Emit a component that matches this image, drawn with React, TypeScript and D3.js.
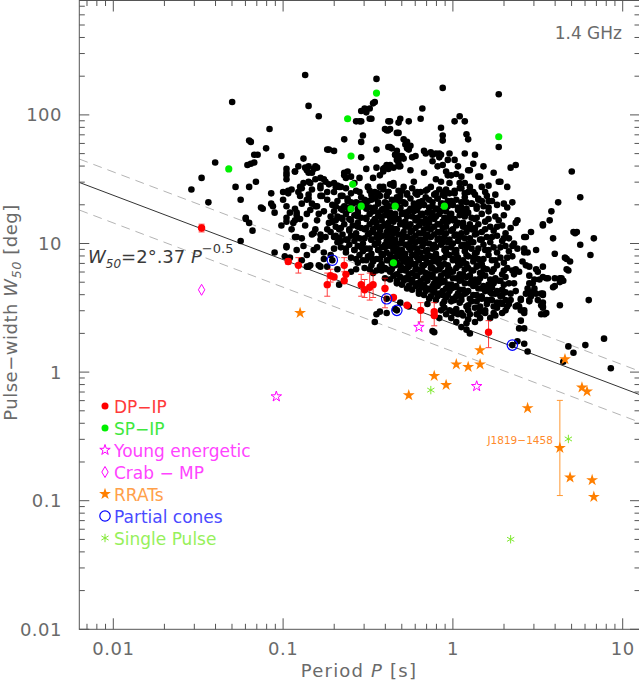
import React from "react";
import * as d3 from "d3";

// all marks stored as [log10 P (s), log10 W50 (deg)]

// ordinary pulsars (black dots)
const normalPulsars: [number, number][] = [
  // dense core
  [-0.63,1.43],[-0.57,1.41],[-0.50,1.44],[-0.46,1.40],[-0.41,1.42],[-0.35,1.45],[-0.30,1.41],[-0.24,1.43],[-0.19,1.40],[-0.13,1.44],[-0.08,1.42],[-0.02,1.39],[0.04,1.43],[0.10,1.41],[0.17,1.44],
  [-0.66,1.37],[-0.60,1.39],[-0.54,1.36],[-0.48,1.38],[-0.43,1.37],[-0.38,1.40],[-0.33,1.36],[-0.27,1.38],[-0.22,1.39],[-0.16,1.36],[-0.11,1.38],[-0.05,1.37],[0.01,1.39],[0.07,1.36],[0.13,1.38],[0.20,1.37],
  [-0.68,1.33],[-0.62,1.35],[-0.57,1.32],[-0.52,1.34],[-0.46,1.35],[-0.40,1.32],[-0.36,1.34],[-0.31,1.33],[-0.25,1.35],[-0.20,1.32],[-0.14,1.34],[-0.09,1.35],[-0.03,1.33],[0.02,1.34],[0.08,1.32],[0.15,1.35],[0.23,1.33],
  [-0.64,1.29],[-0.59,1.31],[-0.53,1.30],[-0.49,1.28],[-0.44,1.31],[-0.38,1.29],[-0.33,1.30],[-0.28,1.31],[-0.23,1.28],[-0.17,1.30],[-0.12,1.29],[-0.06,1.31],[0.00,1.30],[0.05,1.28],[0.11,1.31],[0.18,1.29],[0.26,1.30],
  [-0.70,1.25],[-0.66,1.27],[-0.61,1.26],[-0.56,1.24],[-0.51,1.27],[-0.47,1.25],[-0.42,1.26],[-0.37,1.24],[-0.31,1.27],[-0.26,1.25],[-0.21,1.26],[-0.15,1.24],[-0.10,1.27],[-0.04,1.25],[0.03,1.26],[0.09,1.24],[0.14,1.27],[0.21,1.25],
  [-0.68,1.21],[-0.63,1.23],[-0.58,1.22],[-0.54,1.20],[-0.49,1.23],[-0.44,1.21],[-0.40,1.22],[-0.35,1.20],[-0.30,1.23],[-0.24,1.21],[-0.19,1.22],[-0.13,1.20],[-0.08,1.23],[-0.02,1.21],[0.04,1.22],[0.11,1.20],[0.17,1.23],[0.25,1.21],[0.30,1.22],
  [-0.71,1.17],[-0.65,1.19],[-0.60,1.18],[-0.56,1.16],[-0.51,1.19],[-0.47,1.17],[-0.42,1.18],[-0.38,1.16],[-0.33,1.19],[-0.28,1.17],[-0.22,1.18],[-0.17,1.16],[-0.11,1.19],[-0.06,1.17],[0.00,1.18],[0.06,1.16],[0.13,1.19],[0.19,1.17],[0.27,1.18],
  [-0.69,1.13],[-0.64,1.15],[-0.59,1.14],[-0.54,1.12],[-0.49,1.15],[-0.45,1.13],[-0.40,1.14],[-0.36,1.12],[-0.31,1.15],[-0.26,1.13],[-0.20,1.14],[-0.15,1.12],[-0.09,1.15],[-0.04,1.13],[0.02,1.14],[0.08,1.12],[0.15,1.15],[0.22,1.13],[0.29,1.14],[0.34,1.12],
  [-0.72,1.09],[-0.67,1.11],[-0.61,1.10],[-0.57,1.08],[-0.52,1.11],[-0.47,1.09],[-0.43,1.10],[-0.38,1.08],[-0.34,1.11],[-0.29,1.09],[-0.24,1.10],[-0.18,1.08],[-0.13,1.11],[-0.07,1.09],[-0.01,1.10],[0.05,1.08],[0.11,1.11],[0.17,1.09],[0.24,1.10],[0.31,1.08],
  [-0.70,1.05],[-0.65,1.07],[-0.60,1.06],[-0.55,1.04],[-0.50,1.07],[-0.45,1.05],[-0.41,1.06],[-0.36,1.04],[-0.32,1.07],[-0.27,1.05],[-0.22,1.06],[-0.16,1.04],[-0.11,1.07],[-0.05,1.05],[0.01,1.06],[0.07,1.04],[0.13,1.07],[0.20,1.05],[0.26,1.06],[0.33,1.04],
  [-0.68,1.01],[-0.63,1.03],[-0.58,1.02],[-0.53,1.00],[-0.48,1.03],[-0.44,1.01],[-0.39,1.02],[-0.34,1.00],[-0.30,1.03],[-0.25,1.01],[-0.20,1.02],[-0.14,1.00],[-0.09,1.03],[-0.03,1.01],[0.03,1.02],[0.09,1.00],[0.16,1.03],[0.22,1.01],[0.29,1.02],[0.36,1.00],
  [-0.66,0.97],[-0.61,0.99],[-0.56,0.98],[-0.51,0.96],[-0.46,0.99],[-0.42,0.97],[-0.37,0.98],[-0.33,0.96],[-0.28,0.99],[-0.23,0.97],[-0.18,0.98],[-0.12,0.96],[-0.07,0.99],[-0.01,0.97],[0.05,0.98],[0.11,0.96],[0.18,0.99],[0.24,0.97],[0.31,0.98],
  [-0.63,0.93],[-0.58,0.95],[-0.53,0.94],[-0.48,0.92],[-0.44,0.95],[-0.39,0.93],[-0.35,0.94],[-0.30,0.92],[-0.25,0.95],[-0.21,0.93],[-0.16,0.94],[-0.10,0.92],[-0.05,0.95],[0.01,0.93],[0.07,0.94],[0.13,0.92],[0.19,0.95],[0.26,0.93],[0.33,0.94],
  [-0.60,0.89],[-0.55,0.91],[-0.50,0.90],[-0.45,0.88],[-0.41,0.91],[-0.36,0.89],[-0.32,0.90],[-0.27,0.88],[-0.23,0.91],[-0.18,0.89],[-0.13,0.90],[-0.08,0.88],[-0.02,0.91],[0.03,0.89],[0.09,0.90],[0.15,0.88],[0.21,0.91],[0.28,0.89],[0.35,0.90],
  [-0.56,0.85],[-0.51,0.87],[-0.47,0.86],[-0.42,0.84],[-0.38,0.87],[-0.33,0.85],[-0.29,0.86],[-0.24,0.84],[-0.20,0.87],[-0.15,0.85],[-0.10,0.86],[-0.05,0.84],[0.00,0.87],[0.06,0.85],[0.12,0.86],[0.17,0.84],[0.23,0.87],[0.30,0.85],
  [-0.52,0.81],[-0.48,0.83],[-0.43,0.82],[-0.39,0.80],[-0.34,0.83],[-0.30,0.81],[-0.26,0.82],[-0.21,0.80],[-0.17,0.83],[-0.12,0.81],[-0.07,0.82],[-0.02,0.80],[0.04,0.83],[0.09,0.81],[0.14,0.82],[0.20,0.80],[0.26,0.83],[0.32,0.81],
  [-0.47,0.77],[-0.42,0.79],[-0.37,0.78],[-0.33,0.76],[-0.28,0.79],[-0.24,0.77],[-0.19,0.78],[-0.14,0.76],[-0.10,0.79],[-0.05,0.77],[0.00,0.78],[0.06,0.76],[0.11,0.79],[0.17,0.77],[0.23,0.78],[0.29,0.76],[0.35,0.79],
  [-0.40,0.73],[-0.35,0.75],[-0.31,0.74],[-0.26,0.72],[-0.22,0.75],[-0.17,0.73],[-0.12,0.74],[-0.08,0.72],[-0.03,0.75],[0.02,0.73],[0.08,0.74],[0.13,0.72],[0.19,0.75],[0.25,0.73],[0.31,0.74],
  [-0.33,0.69],[-0.29,0.71],[-0.24,0.70],[-0.20,0.68],[-0.15,0.71],[-0.11,0.69],[-0.06,0.70],[-0.01,0.68],[0.04,0.71],[0.10,0.69],[0.15,0.70],[0.21,0.68],[0.27,0.71],[0.33,0.69],
  [-0.27,0.65],[-0.22,0.67],[-0.18,0.66],[-0.13,0.64],[-0.09,0.67],[-0.04,0.65],[0.01,0.66],[0.06,0.64],[0.12,0.67],[0.17,0.65],[0.23,0.66],[0.29,0.64],
  [-0.20,0.61],[-0.16,0.63],[-0.11,0.62],[-0.06,0.60],[-0.02,0.63],[0.03,0.61],[0.08,0.62],[0.14,0.60],[0.19,0.63],[0.25,0.61],[0.31,0.62],
  [-0.14,0.57],[-0.09,0.59],[-0.04,0.58],[0.01,0.56],[0.05,0.59],[0.10,0.57],[0.16,0.58],[0.22,0.56],[0.28,0.59],
  [-0.06,0.53],[-0.01,0.55],[0.04,0.54],[0.09,0.52],[0.14,0.55],[0.20,0.53],[0.26,0.54],
  [0.02,0.49],[0.08,0.51],[0.13,0.50],[0.19,0.48],[0.24,0.51],
  [-0.44,1.24],[-0.39,1.25],[-0.34,1.23],[-0.28,1.24],[-0.23,1.25],[-0.18,1.23],[-0.12,1.24],[-0.07,1.25],[-0.01,1.23],[0.06,1.24],
  [-0.45,1.16],[-0.40,1.15],[-0.35,1.17],[-0.30,1.16],[-0.25,1.15],[-0.19,1.17],[-0.14,1.16],[-0.08,1.15],[-0.03,1.17],[0.03,1.16],[0.10,1.15],
  [-0.49,1.08],[-0.44,1.07],[-0.39,1.09],[-0.35,1.08],[-0.30,1.07],[-0.25,1.09],[-0.20,1.08],[-0.15,1.07],[-0.09,1.09],[-0.04,1.08],[0.02,1.07],[0.08,1.09],[0.14,1.08],
  [-0.45,1.00],[-0.40,0.99],[-0.36,1.01],[-0.31,1.00],[-0.27,0.99],[-0.22,1.01],[-0.17,1.00],[-0.11,0.99],[-0.06,1.01],[0.00,1.00],[0.06,0.99],[0.12,1.01],
  [-0.42,0.92],[-0.37,0.91],[-0.33,0.93],[-0.28,0.92],[-0.24,0.91],[-0.19,0.93],[-0.15,0.92],[-0.10,0.91],[-0.04,0.93],[0.02,0.92],[0.08,0.91],[0.14,0.93],
  [-0.36,0.84],[-0.31,0.83],[-0.27,0.85],[-0.22,0.84],[-0.18,0.83],[-0.13,0.85],[-0.08,0.84],[-0.03,0.83],[0.03,0.85],[0.08,0.84],[0.15,0.83],
  [-0.26,0.76],[-0.21,0.75],[-0.16,0.77],[-0.12,0.76],[-0.07,0.75],[-0.02,0.77],[0.04,0.76],[0.10,0.75],[0.16,0.77],
  [-0.55,1.40],[-0.49,1.41],[-0.44,1.39],[-0.38,1.40],[-0.32,1.41],[-0.27,1.39],[-0.21,1.40],[-0.16,1.41],[-0.10,1.39],[-0.05,1.40],[0.01,1.41],[0.07,1.39],[0.12,1.40],
  [-0.60,1.32],[-0.55,1.31],[-0.50,1.33],[-0.44,1.32],[-0.39,1.31],[-0.34,1.33],[-0.29,1.32],[-0.23,1.31],[-0.18,1.33],[-0.12,1.32],[-0.07,1.31],[-0.01,1.33],[0.05,1.32],[0.11,1.31],[0.17,1.33],
  [-0.62,1.28],[-0.56,1.27],[-0.51,1.29],[-0.46,1.28],[-0.41,1.27],[-0.36,1.29],[-0.31,1.28],[-0.25,1.27],[-0.20,1.29],[-0.14,1.28],[-0.09,1.27],[-0.03,1.29],[0.03,1.28],[0.08,1.27],[0.14,1.29],[0.21,1.28],
  [-0.66,1.20],[-0.61,1.19],[-0.56,1.21],[-0.51,1.20],[-0.46,1.19],[-0.42,1.21],[-0.37,1.20],[-0.32,1.19],[-0.27,1.21],[-0.21,1.20],[-0.16,1.19],[-0.10,1.21],[-0.05,1.20],[0.01,1.19],[0.07,1.21],[0.14,1.20],[0.21,1.19],
  [-0.66,1.12],[-0.61,1.11],[-0.56,1.13],[-0.51,1.12],[-0.47,1.11],[-0.42,1.13],[-0.38,1.12],[-0.33,1.11],[-0.28,1.13],[-0.22,1.12],[-0.17,1.11],[-0.11,1.13],[-0.06,1.12],[0.00,1.11],[0.06,1.13],[0.13,1.12],[0.19,1.11],[0.26,1.13],
  [-0.67,1.04],[-0.62,1.03],[-0.57,1.05],[-0.52,1.04],[-0.48,1.03],[-0.43,1.05],[-0.38,1.04],[-0.34,1.03],[-0.29,1.05],[-0.24,1.04],[-0.19,1.03],[-0.13,1.05],[-0.08,1.04],[-0.02,1.03],[0.04,1.05],[0.10,1.04],[0.17,1.03],[0.23,1.05],[0.30,1.04],
  [-0.63,0.96],[-0.58,0.95],[-0.54,0.97],[-0.49,0.96],[-0.44,0.95],[-0.40,0.97],[-0.35,0.96],[-0.30,0.95],[-0.26,0.97],[-0.21,0.96],[-0.15,0.95],[-0.10,0.97],[-0.04,0.96],[0.02,0.95],[0.08,0.97],[0.15,0.96],[0.21,0.95],[0.28,0.97],
  [-0.57,0.88],[-0.53,0.87],[-0.48,0.89],[-0.43,0.88],[-0.39,0.87],[-0.34,0.89],[-0.30,0.88],[-0.25,0.87],[-0.21,0.89],[-0.16,0.88],[-0.11,0.87],[-0.05,0.89],[0.00,0.88],[0.06,0.87],[0.12,0.89],[0.18,0.88],[0.25,0.87],[0.32,0.89],
  [-0.49,0.80],[-0.45,0.79],[-0.40,0.81],[-0.36,0.80],[-0.31,0.79],[-0.27,0.81],[-0.22,0.80],[-0.18,0.79],[-0.13,0.81],[-0.08,0.80],[-0.03,0.79],[0.02,0.81],[0.07,0.80],[0.12,0.79],[0.18,0.81],[0.24,0.80],[0.30,0.79],
  [-0.37,0.72],[-0.33,0.71],[-0.28,0.73],[-0.24,0.72],[-0.19,0.71],[-0.15,0.73],[-0.10,0.72],[-0.05,0.71],[0.00,0.73],[0.05,0.72],[0.11,0.71],[0.16,0.73],[0.22,0.72],[0.28,0.71],
  [-0.30,0.68],[-0.26,0.67],[-0.21,0.69],[-0.17,0.68],[-0.12,0.67],[-0.08,0.69],[-0.03,0.68],[0.02,0.67],[0.07,0.69],[0.13,0.68],[0.18,0.67],[0.24,0.69],[0.30,0.68],
  [-0.24,0.64],[-0.20,0.63],[-0.15,0.65],[-0.11,0.64],[-0.06,0.63],[-0.01,0.65],[0.04,0.64],[0.09,0.63],[0.15,0.65],[0.20,0.64],[0.26,0.63],
  [-0.17,0.60],[-0.13,0.59],[-0.08,0.61],[-0.03,0.60],[0.02,0.59],[0.07,0.61],[0.12,0.60],[0.17,0.59],[0.23,0.61],[0.29,0.60],
  [-0.10,0.56],[-0.05,0.55],[0.00,0.57],[0.05,0.56],[0.11,0.55],[0.17,0.57],[0.23,0.56],
  [-0.05,0.50],[0.00,0.47],[0.05,0.46],[-0.15,0.53],[0.10,0.45],[0.16,0.47],
  // upper-left periphery
  [-0.87,2.31],[-0.45,2.28],[-1.30,2.10],[-0.85,2.07],[-0.79,1.99],[-0.54,2.03],[-0.51,2.02],[-0.49,2.05],[-0.46,2.10],[-0.57,1.95],[-0.54,1.95],[-0.48,1.97],
  [-1.08,1.89],[-1.20,1.80],[-1.19,1.79],[-1.10,1.74],[-1.15,1.69],[-1.17,1.69],[-1.21,1.61],[-1.19,1.62],[-1.17,1.63],[-1.40,1.63],[-1.48,1.51],[-1.54,1.42],
  [-1.44,1.32],[-1.28,1.44],[-1.20,1.44],[-1.16,1.48],[-1.25,1.34],[-1.12,1.27],[-1.07,1.39],[-1.07,1.31],[-1.06,1.29],[-1.05,1.24],[-1.01,1.68],[-1.00,1.40],
  [-0.97,1.41],[-0.98,1.58],[-0.98,1.53],[-0.93,1.56],[-0.88,1.66],[-0.87,1.59],[-0.85,1.60],[-0.85,1.55],[-0.82,1.58],[-0.81,1.60],[-0.90,1.44],[-0.89,1.43],
  [-0.84,1.47],[-0.81,1.50],[-0.78,1.51],[-0.75,1.48],[-0.73,1.46],[-0.73,1.73],[-0.70,1.72],[-0.64,1.81],[-0.53,1.84],[-0.54,1.79],[-0.54,1.67],[-0.40,1.89],
  [-0.38,1.88],[-0.33,1.86],[-0.37,1.95],[-0.32,1.94],[-0.36,1.74],[-0.34,1.69],[-0.33,1.65],[-0.32,1.60],[-0.35,1.59],[-0.38,1.58],[-0.40,1.59],[-0.45,1.59],
  [-0.51,1.58],[-0.55,1.51],[-0.64,1.53],[-0.63,1.51],[-0.60,1.52],[-0.43,1.53],[-0.43,1.44],[-0.37,1.46],[-0.58,1.47],[-0.66,1.44],[-0.69,1.44],[-0.70,1.40],
  [-0.74,1.40],[-0.78,1.43],[-0.83,1.42],[-0.85,1.38],[-0.90,1.37],[-0.89,1.31],[-0.85,1.35],[-0.92,1.24],[-0.93,1.27],[-0.98,1.29],[-1.00,1.34],[-0.98,1.20],
  [-0.81,1.29],[-0.78,1.37],[-0.74,1.34],[-0.69,1.29],[-0.65,1.37],[-0.79,1.23],[-0.86,1.23],[-1.22,1.19],
  [-1.25,1.02],[-1.22,1.20],[-1.20,1.16],[-1.18,1.10],[-1.13,1.28],[-1.05,0.93],[-0.99,0.90],[-0.98,0.98],[-0.96,0.89],[-0.98,1.17],[-0.93,1.18],[-0.92,1.22],
  [-0.89,0.87],[-0.86,0.82],[-0.84,0.83],[-0.83,1.07],[-0.81,1.11],[-0.78,1.07],[-0.78,0.82],[-0.93,1.05],[-1.01,1.14],[-0.67,0.68],[-0.60,0.78],[-0.57,0.80],
  [-0.46,0.39],[-0.45,0.45],[-0.43,0.47],[-0.39,0.46],
  [-0.86,1.57],[-0.83,1.55],[-0.80,1.59],[-0.88,1.47],[-0.85,1.48],[-0.76,1.50],[-0.70,1.47],[-0.67,1.44],[-0.64,1.55],[-0.62,1.56],[-0.86,1.34],[-0.83,1.31],
  [-0.80,1.29],[-0.77,1.37],[-0.72,1.21],[-0.69,1.18],[-0.65,1.26],[-0.62,1.33],[-0.82,1.08],[-0.78,1.03],[-0.74,1.11],[-0.69,1.06],[-0.66,1.02],[-0.82,0.95],
  [-0.86,0.91],[-0.76,0.93],[-0.70,0.96],[-0.74,0.82],[-0.68,0.80],[-0.79,0.83],
  [-0.96,1.24],[-0.94,1.16],[-0.90,1.19],[-0.87,1.14],[-0.84,1.26],[-0.80,1.18],[-0.76,1.25],[-0.73,1.16],[-0.75,1.05],[-0.71,1.30],[-0.88,0.98],[-0.80,0.97],
  [-0.76,0.88],[-0.72,0.91],[-0.92,0.95],[-0.98,0.97],[-0.92,1.05],[-0.95,1.11],[-0.89,1.04],[-0.85,0.82],[-0.97,1.39],[-0.95,1.42],[-0.91,1.40],[-0.93,1.56],
  [-0.98,1.55],[-0.98,1.50],[-0.91,1.60],[-0.71,0.87],[-0.39,0.57],[-0.33,0.48],
  // upper-middle periphery
  [-0.45,1.73],[-0.38,1.75],[-0.33,1.72],[-0.27,1.79],[-0.27,1.74],[-0.22,1.68],[-0.16,1.70],[-0.12,1.64],[-0.09,1.60],[-0.37,1.61],[-0.31,1.60],[-0.25,1.57],
  [-0.41,1.56],[-0.47,1.51],[-0.50,1.44],[-0.41,1.44],[-0.35,1.47],[-0.29,1.44],[-0.23,1.48],[-0.17,1.55],[-0.10,1.50],[-0.15,1.42],[-0.21,1.38],[-0.31,1.37],
  [-0.39,1.37],[-0.45,1.39],[-0.48,1.34],[-0.09,1.35],
  [-0.06,2.21],[0.27,2.16],[0.27,1.75],[0.28,1.48],[-0.18,2.05],[-0.52,2.05],[-0.47,2.09],[-0.49,1.97],[-0.55,1.95],[-0.38,1.95],[-0.31,1.97],[-0.26,1.95],
  [-0.19,1.97],[-0.07,1.90],[0.01,1.95],[0.04,1.99],[0.07,1.95],[-0.06,1.84],[0.08,1.85],[-0.39,1.88],[-0.37,1.89],[-0.37,1.75],[-0.25,1.76],[-0.31,1.68],
  [-0.29,1.66],[-0.74,1.73],[-0.39,1.61],[-0.41,1.58],[-0.32,1.62],[-0.13,1.71],[-0.12,1.69],[-0.07,1.69],[-0.08,1.67],[-0.03,1.65],[0.07,1.70],[0.13,1.69],
  [0.02,1.54],[0.05,1.52],[0.16,1.52],[0.34,1.59],[0.37,1.61],[-0.06,1.80],[0.09,1.81],[-0.32,1.86],[-0.29,1.81],[-0.28,1.77],[-0.26,1.73],[-0.17,1.72],
  [-0.10,1.70],[-0.02,1.70],[0.01,1.65],[-0.34,1.69],[-0.30,1.68],[-0.24,1.67],[-0.32,1.65],[0.10,1.57],[-0.06,1.61],[-0.03,1.53],[-0.07,1.48],[-0.01,1.53],
  [-0.08,1.70],[-0.04,1.56],[0.09,1.57],[0.15,1.52],[0.04,1.47],[0.07,1.47],[0.10,1.44],[0.09,1.40],[0.27,1.48],[0.32,1.44],[-0.04,1.42],[-0.06,1.38],
  [0.15,1.34],[0.21,1.33],[0.25,1.38],[0.30,1.31],[0.32,1.28],[0.35,1.32],[0.18,1.60],[0.21,1.45],[0.24,1.55],[0.19,1.40],[0.12,1.62],[0.03,1.60],
  [-0.02,1.47],[0.05,1.43],[-0.78,1.45],[-0.68,1.45],
  // right periphery
  [0.70,1.56],[0.75,1.36],[0.62,1.32],[0.58,1.25],[0.57,1.18],[0.53,1.14],[0.46,1.09],[0.73,1.09],[0.75,0.99],[0.83,1.04],[0.60,0.92],[0.67,0.88],
  [0.68,0.79],[0.80,0.56],[0.89,0.26],[0.63,0.73],[0.59,0.66],[0.63,0.52],[0.52,0.61],[0.52,0.52],[0.52,0.45],[0.56,0.73],[0.42,1.05],[0.42,0.96],
  [0.39,0.78],[0.45,0.75],[0.45,0.69],[0.46,0.62],[0.45,0.55],[0.40,0.56],[0.40,0.48],[0.38,0.52],[0.33,0.53],[0.34,0.61],[0.29,0.53],[0.29,0.46],
  [0.22,0.62],[0.20,0.56],[0.16,0.51],[0.14,0.45],[0.08,0.38],[0.08,0.33],[0.02,0.39],[-0.11,0.31],
  [0.38,1.18],[0.43,1.05],[0.49,0.95],[0.53,1.15],[0.59,1.04],[0.71,1.09],[0.66,0.89],[0.69,0.86],[0.67,0.80],[0.35,0.98],[0.38,0.96],[0.42,0.93],
  [0.45,0.82],[0.49,0.80],[0.53,0.82],[0.53,0.74],[0.47,0.69],[0.51,0.72],[0.49,0.61],[0.53,0.60],[0.53,0.54],[0.53,0.50],[0.55,0.46],[0.60,0.67],
  [0.64,0.73],[0.65,0.71],[0.60,0.73],[0.43,0.61],[0.45,0.56],[0.39,0.51],[0.42,0.48],[0.37,0.63],[0.36,0.69],[0.34,0.56],[0.37,0.51],[0.31,0.48],
  [0.25,0.44],[0.42,0.34],[0.19,0.46],[0.16,0.42],[0.13,0.39],[0.06,0.44],[0.09,0.48],
  [0.72,1.08],[0.81,0.91],[0.37,1.16],[0.44,0.93],[0.41,0.86],[0.43,0.83],[0.37,0.80],[0.36,0.76],[0.55,0.73],[0.50,0.78],[0.48,0.72],[0.53,0.61],
  [0.63,0.70],[0.53,0.51],[0.54,0.45],[0.50,0.56],[0.46,0.59],[0.48,0.65],[0.44,0.65],[0.40,0.57],[0.42,0.46],[0.40,0.40],[0.39,0.34],[0.42,0.22],
  [0.44,0.16],[0.38,0.24],[0.35,0.21],[0.68,0.20],[0.71,0.15],[0.78,0.21],[0.93,0.03],[0.65,0.08],[0.31,0.56],[0.28,0.54],[0.32,0.51],[0.26,0.50],
  [0.24,0.46],[0.22,0.42],[0.10,0.30],[0.09,0.41],[0.03,0.45],[0.01,0.46],[-0.02,0.48],[0.05,0.35],[-0.12,0.32],[-0.04,0.45],[-0.01,0.42],[-0.08,0.42],
  [-0.07,0.48],[-0.34,0.49],[-0.31,0.54],[-0.26,0.51],
];

// single-peak interpulses (green)
const spIp: [number, number][] = [
  [-1.32,1.58],[-0.45,2.17],[-0.62,1.97],[-0.60,1.68],[-0.59,1.46],[-0.60,1.27],[-0.54,1.29],[-0.34,1.29],[-0.05,1.29],[-0.35,0.85],[0.27,1.83],
];

// double-peak interpulses (red): logP, logW, log lower, log upper
const dpIp: [number, number, number, number][] = [
  [-1.48,1.12,1.09,1.15],[-0.97,0.86,0.84,0.88],[-0.91,0.83,0.77,0.89],[-0.74,0.68,0.59,0.77],[-0.72,0.75,0.70,0.80],
  [-0.70,0.74,0.74,0.74],[-0.64,0.83,0.78,0.89],[-0.63,0.76,0.76,0.76],[-0.64,0.71,0.71,0.71],[-0.54,0.68,0.59,0.76],
  [-0.52,0.64,0.58,0.72],[-0.49,0.66,0.56,0.77],[-0.47,0.68,0.58,0.76],[-0.40,0.65,0.50,0.73],[-0.35,0.58,0.58,0.58],
  [-0.27,0.52,0.52,0.52],[-0.19,0.48,0.39,0.54],[-0.11,0.47,0.36,0.54],[-0.11,0.44,0.44,0.44],[0.21,0.31,0.19,0.40],
];

const partialCones: [number, number][] = [[-0.71,0.87],[-0.39,0.57],[-0.33,0.48],[0.35,0.21]];
const youngEnergetic: [number, number][] = [[-1.04,-0.19],[-0.20,0.35],[0.14,-0.11]];
const crabMp: [number, number][] = [[-1.48,0.64]];
const rrats: [number, number][] = [
  [-0.90,0.46],[0.16,0.17],[0.02,0.06],[0.09,0.04],[0.16,0.06],[-0.11,-0.03],[-0.04,-0.10],[-0.26,-0.18],
  [0.44,-0.28],[0.66,0.10],[0.76,-0.12],[0.79,-0.15],[0.63,-0.59],[0.69,-0.82],[0.82,-0.84],[0.83,-0.97],
];
const j1819: [number, number, number, number] = [0.63, -0.59, -0.96, -0.22];
const singlePulse: [number, number][] = [[-0.13,-0.14],[0.68,-0.52],[0.34,-1.30]];

// W50 = 2.37 P^-0.5 and its band
const fitCoef = 2.37;
const fitIndex = -0.5;
const bandUp = 1.52;
const bandDown = 0.61;

const xTicks = [0.01, 0.1, 1, 10];
const xTickLabels = ["0.01", "0.1", "1", "10"];
const yTicks = [0.01, 0.1, 1, 10, 100];
const yTickLabels = ["0.01", "0.1", "1", "10", "100"];

const legendLabels = ["DP\u2212IP", "SP\u2212IP", "Young energetic", "Crab \u2212 MP", "RRATs", "Partial cones", "Single Pulse"];
const legendColors = ["#ff3a3a", "#3ee83e", "#ff44ff", "#ff44ff", "#ffa04a", "#4a4aff", "#96f05a"];

const RED = "#ff0000";
const GREEN = "#00f000";
const MAGENTA = "#ff00ff";
const ORANGE = "#ff7f00";
const BLUE = "#0000ff";
const LIME = "#7fe830";
const FONT = "DejaVu Sans";

const left = 79.3, right = 640, top = 0.5, bottom = 629.3;
const x = d3.scaleLog().domain([0.01, 10]).range([113.3, 622.7]);
const y = d3.scaleLog().domain([0.01, 100]).range([629.3, 114.9]);
const px = (l: number) => x(10 ** l);
const py = (l: number) => y(10 ** l);

function Asterisk({ cx, cy, r, color }: { cx: number; cy: number; r: number; color: string }) {
  const a = [90, 30, -30].map((d) => (d * Math.PI) / 180);
  return (
    <g stroke={color} strokeWidth={1}>
      {a.map((t, i) => (
        <line key={i} x1={cx - r * Math.cos(t)} y1={cy - r * Math.sin(t)} x2={cx + r * Math.cos(t)} y2={cy + r * Math.sin(t)} />
      ))}
    </g>
  );
}

export default function App() {
  const starFilled = d3.symbol().type(d3.symbolStar).size(44)() || "";
  const starOpen = d3.symbol().type(d3.symbolStar).size(34)() || "";
  const diamond = "M0,-5.5L3.2,0L0,5.5L-3.2,0Z";

  const pMin = x.invert(left);
  const pMax = x.invert(right);
  const fitLine = (k: number) =>
    d3.line<number>().x((p) => x(p)).y((p) => y(k * fitCoef * Math.pow(p, fitIndex)))([pMin, pMax]) || "";

  const xMinor: number[] = [];
  for (let e = -3; e <= 1; e++) for (let m = 1; m < 10; m++) {
    const v = m * 10 ** e;
    if (x(v) >= left && x(v) <= right) xMinor.push(v);
  }
  const yMinor: number[] = [];
  for (let e = -2; e <= 2; e++) for (let m = 1; m < 10; m++) {
    const v = m * 10 ** e;
    if (y(v) >= top - 1 && y(v) <= bottom) yMinor.push(v);
  }

  const axisColor = "#555";
  const labelColor = "#6a6a6a";
  const legendRowY = d3.range(legendLabels.length).map((i) => 406 + i * 22);
  const legendX = 105;

  return (
    <svg width={639} height={684} style={{ position: "absolute", left: 0, top: 0, background: "#fff" }} fontFamily={FONT}>
      <defs>
        <clipPath id="plotArea">
          <rect x={left} y={top} width={right - left} height={bottom - top} />
        </clipPath>
      </defs>
      <rect x={0} y={0} width={639} height={684} fill="#fff" />

      {/* power-law fit and band */}
      <g clipPath="url(#plotArea)" fill="none">
        <path d={fitLine(bandUp)} stroke="#b4b4b4" strokeWidth={1} strokeDasharray="9,6" />
        <path d={fitLine(bandDown)} stroke="#b4b4b4" strokeWidth={1} strokeDasharray="9,6" />
        <path d={fitLine(1)} stroke="#333" strokeWidth={1} />
      </g>

      {/* normal pulsars */}
      <g fill="#000">
        {normalPulsars.map(([lp, lw], i) => (
          <circle key={i} cx={px(lp)} cy={py(lw)} r={3.3} />
        ))}
      </g>

      {/* SP-IP */}
      <g fill={GREEN}>
        {spIp.map(([lp, lw], i) => (
          <circle key={i} cx={px(lp)} cy={py(lw)} r={3.6} />
        ))}
      </g>

      {/* DP-IP with error bars */}
      <g stroke={RED} strokeWidth={1} opacity={0.75}>
        {dpIp.filter((d) => d[3] > d[2]).map(([lp, , lo, hi], i) => (
          <g key={i}>
            <line x1={px(lp)} x2={px(lp)} y1={py(lo)} y2={py(hi)} />
            <line x1={px(lp) - 3} x2={px(lp) + 3} y1={py(lo)} y2={py(lo)} />
            <line x1={px(lp) - 3} x2={px(lp) + 3} y1={py(hi)} y2={py(hi)} />
          </g>
        ))}
      </g>
      <g fill={RED}>
        {dpIp.map(([lp, lw], i) => (
          <circle key={i} cx={px(lp)} cy={py(lw)} r={3.7} />
        ))}
      </g>

      {/* partial cones */}
      <g fill="none" stroke={BLUE} strokeWidth={1.2}>
        {partialCones.map(([lp, lw], i) => (
          <circle key={i} cx={px(lp)} cy={py(lw)} r={5.2} />
        ))}
      </g>

      {/* young energetic + Crab main pulse */}
      <g fill="#fff" stroke={MAGENTA} strokeWidth={1}>
        {youngEnergetic.map(([lp, lw], i) => (
          <path key={i} d={starOpen} transform={`translate(${px(lp)},${py(lw)})`} />
        ))}
        {crabMp.map(([lp, lw], i) => (
          <path key={"c" + i} d={diamond} transform={`translate(${px(lp)},${py(lw)})`} />
        ))}
      </g>

      {/* J1819-1458 error bar */}
      <g stroke={ORANGE} strokeWidth={1} opacity={0.8}>
        <line x1={px(j1819[0])} x2={px(j1819[0])} y1={py(j1819[2])} y2={py(j1819[3])} />
        <line x1={px(j1819[0]) - 3} x2={px(j1819[0]) + 3} y1={py(j1819[2])} y2={py(j1819[2])} />
        <line x1={px(j1819[0]) - 3} x2={px(j1819[0]) + 3} y1={py(j1819[3])} y2={py(j1819[3])} />
      </g>
      <text x={px(j1819[0]) - 7} y={py(j1819[1]) - 4} fontSize={10.5} fill="#ff8a2a" textAnchor="end">
        J1819{"\u2212"}1458
      </text>

      {/* RRATs */}
      <g fill={ORANGE}>
        {rrats.map(([lp, lw], i) => (
          <path key={i} d={starFilled} transform={`translate(${px(lp)},${py(lw)})`} />
        ))}
      </g>

      {/* single pulse */}
      {singlePulse.map(([lp, lw], i) => (
        <Asterisk key={i} cx={px(lp)} cy={py(lw)} r={4.2} color={LIME} />
      ))}

      {/* legend */}
      <g>
        <circle cx={legendX} cy={legendRowY[0]} r={3.5} fill={RED} />
        <circle cx={legendX} cy={legendRowY[1]} r={3.5} fill={GREEN} />
        <path d={starOpen} transform={`translate(${legendX},${legendRowY[2]})`} fill="#fff" stroke={MAGENTA} />
        <path d={diamond} transform={`translate(${legendX},${legendRowY[3]})`} fill="#fff" stroke={MAGENTA} />
        <path d={starFilled} transform={`translate(${legendX},${legendRowY[4]})`} fill={ORANGE} />
        <circle cx={legendX} cy={legendRowY[5]} r={5.2} fill="none" stroke={BLUE} strokeWidth={1.2} />
        <Asterisk cx={legendX} cy={legendRowY[6]} r={4.2} color={LIME} />
        {legendLabels.map((t, i) => (
          <text key={t} x={legendX + 9} y={legendRowY[i] + 6.5} fontSize={17} fill={legendColors[i]} style={{ whiteSpace: "pre" }}>
            {t}
          </text>
        ))}
      </g>

      {/* frame & ticks */}
      <g stroke={axisColor} strokeWidth={1} fill="none">
        <rect x={left} y={top} width={right - left} height={bottom - top} />
        {xMinor.map((v) => {
          const major = xTicks.includes(v);
          const len = major ? 11 : 5.5;
          return (
            <g key={"x" + v}>
              <line x1={x(v)} x2={x(v)} y1={bottom} y2={bottom - len} />
              <line x1={x(v)} x2={x(v)} y1={top} y2={top + len} />
            </g>
          );
        })}
        {yMinor.map((v) => {
          const major = yTicks.includes(v);
          const len = major ? 10 : 5.5;
          return (
            <g key={"y" + v}>
              <line x1={left} x2={left + len} y1={y(v)} y2={y(v)} />
              <line x1={right} x2={right - len} y1={y(v)} y2={y(v)} />
            </g>
          );
        })}
      </g>

      {/* tick labels */}
      <g fontSize={18} fill={labelColor}>
        {xTicks.map((v, i) => (
          <text key={v} x={x(v)} y={655} textAnchor="middle" letterSpacing={0.5}>
            {xTickLabels[i]}
          </text>
        ))}
        {yTicks.map((v, i) => (
          <text key={v} x={62} y={y(v) + 6.5} textAnchor="end" letterSpacing={0.5}>
            {yTickLabels[i]}
          </text>
        ))}
      </g>

      {/* axis titles */}
      <text x={359} y={677} fontSize={18} fill={labelColor} textAnchor="middle" letterSpacing={1.2}>
        Period <tspan fontStyle="italic">P</tspan> [s]
      </text>
      <text transform="translate(17,312.5) rotate(-90)" fontSize={18} fill={labelColor} textAnchor="middle" letterSpacing={0.5}>
        Pulse{"\u2212"}width <tspan fontStyle="italic">W</tspan>
        <tspan fontStyle="italic" fontSize={13} dy={4}>50</tspan>
        <tspan dy={-4}> [deg]</tspan>
      </text>

      {/* annotations */}
      <text x={622} y={39} fontSize={17} fill={labelColor} textAnchor="end">
        1.4 GHz
      </text>
      <text x={88} y={263} fontSize={18} fill="#3a3a3a">
        <tspan fontStyle="italic">W</tspan>
        <tspan fontStyle="italic" fontSize={12} dy={5}>50</tspan>
        <tspan dy={-5}>=2°.37 </tspan>
        <tspan fontStyle="italic">P</tspan>
        <tspan fontSize={13} dy={-10}>{"\u2212"}0.5</tspan>
      </text>
    </svg>
  );
}
